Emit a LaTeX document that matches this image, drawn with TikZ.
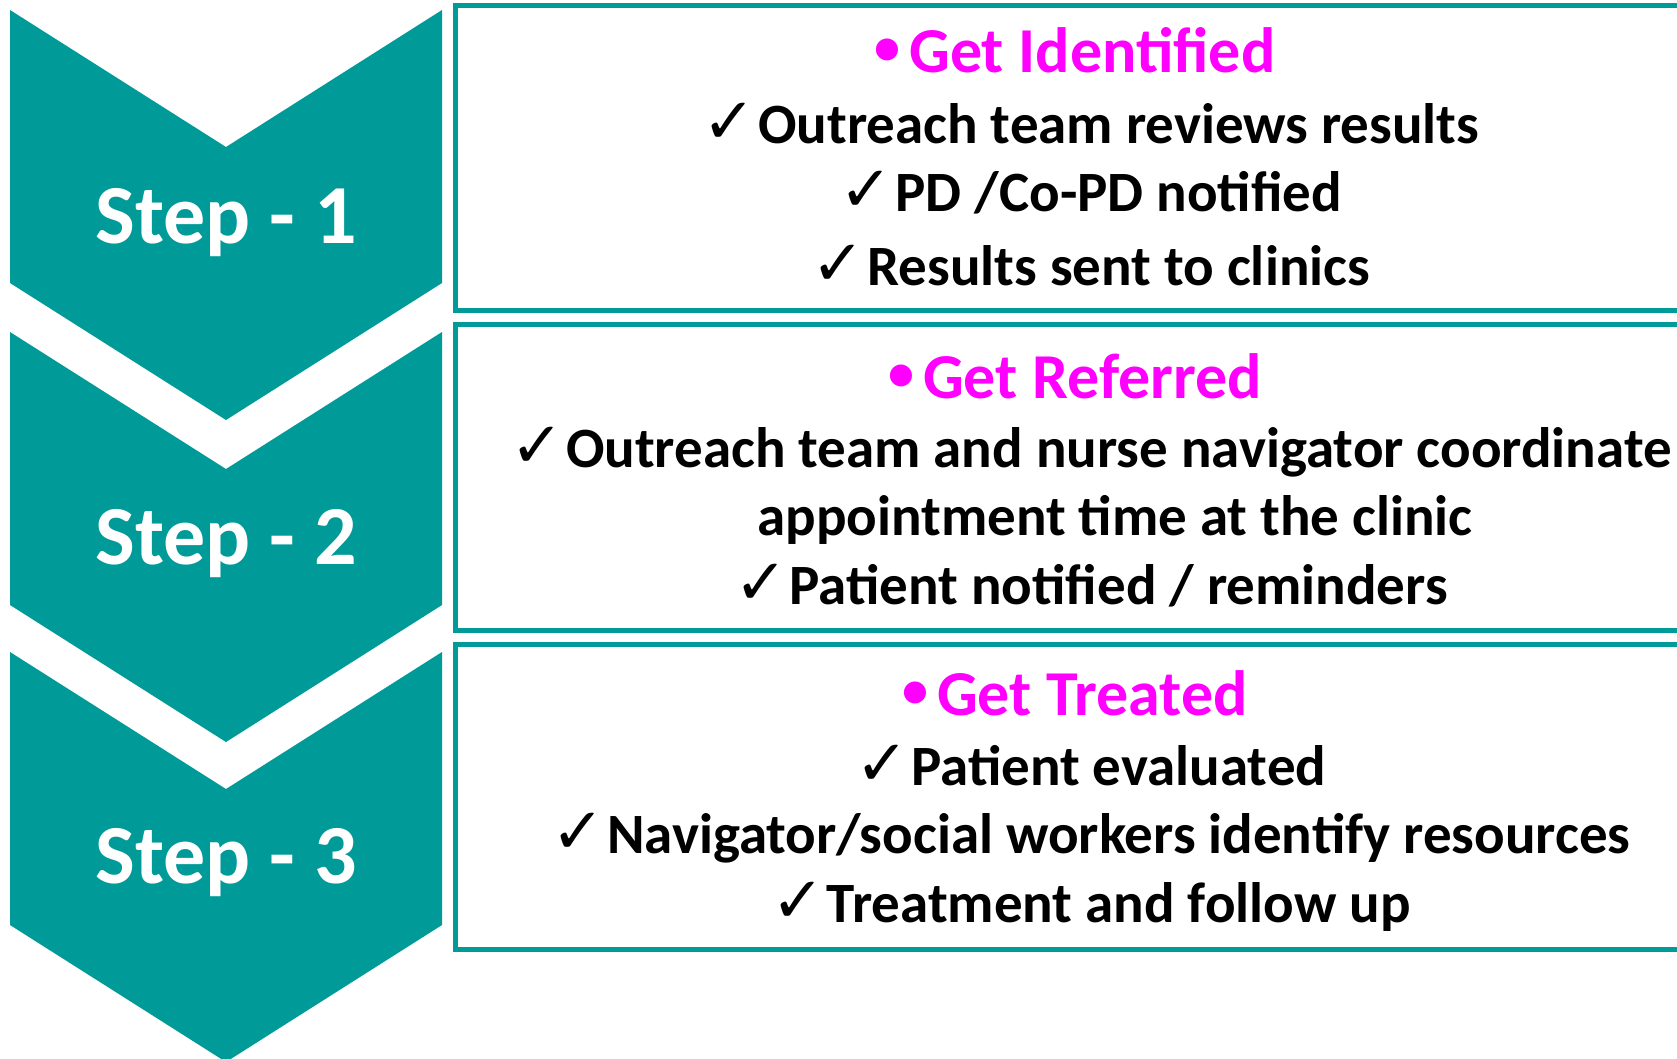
\documentclass[tikz,border=0pt]{standalone}
\usepackage{fontspec}
\setmainfont{Carlito}
\newfontfamily\symfont{DejaVu Sans}
\definecolor{tealA}{HTML}{009B98}
\definecolor{pinkhd}{HTML}{FF00FF}
\newcommand\chk{{\symfont\fontsize{64}{64}\selectfont ✓}\hspace{2pt}}
\newcommand\bul{\raisebox{8pt}{\fontsize{52}{52}\selectfont •}\hspace{9pt}}
\begin{document}
\begin{tikzpicture}[x=1pt,y=-1pt,
  chev/.style={fill=tealA, draw=none},
  steptxt/.style={anchor=base, text=white, font={\fontsize{84}{84}\selectfont\bfseries}, inner sep=0pt},
  hdr/.style={anchor=base, text=pinkhd, font={\fontsize{64}{64}\selectfont\bfseries}, inner sep=0pt},
  itm/.style={anchor=base, text=black, font={\fontsize{57}{57}\selectfont\bfseries}, inner sep=0pt},
  boxst/.style={draw=tealA, line width=5pt}]
\useasboundingbox (0,0) rectangle (1677,1058);
\clip (0,0) rectangle (1677,1058);
% chevrons
\foreach \o in {0,322,642}{
  \fill[chev] (10,10+\o) -- (226,147+\o) -- (442,10+\o) -- (442,283+\o) -- (226,420+\o) -- (10,283+\o) -- cycle;
}
\node[steptxt] (s1) at (226,243) {Step - 1};
\node[steptxt] (s2) at (226,564) {Step - 2};
\node[steptxt] (s3) at (226,883) {Step - 3};
% boxes
\draw[boxst] (455.5,5) rectangle (1720,310.5);
\draw[boxst] (455.5,324.5) rectangle (1720,630.5);
\draw[boxst] (455.5,644) rectangle (1720,949.5);
% box 1
\node[hdr] (h1) at (1075,72) {\bul Get Identified};
\node[itm] (a1) at (1091,143) {\chk Outreach team reviews results};
\node[itm] (a2) at (1091,211) {\chk PD /Co-PD notified};
\node[itm] (a3) at (1091,285) {\chk Results sent to clinics};
% box 2
\node[hdr] (h2) at (1075,398) {\bul Get Referred};
\node[itm] (b1) at (1091,467) {\chk Outreach team and nurse navigator coordinate};
\node[itm] (b2) at (1115,535) {appointment time at the clinic};
\node[itm] (b3) at (1091,604) {\chk Patient notified / reminders};
% box 3
\node[hdr] (h3) at (1075,715) {\bul Get Treated};
\node[itm] (c1) at (1091,785) {\chk Patient evaluated};
\node[itm] (c2) at (1091,853) {\chk Navigator/social workers identify resources};
\node[itm] (c3) at (1091,922) {\chk Treatment and follow up};
\end{tikzpicture}
\end{document}
